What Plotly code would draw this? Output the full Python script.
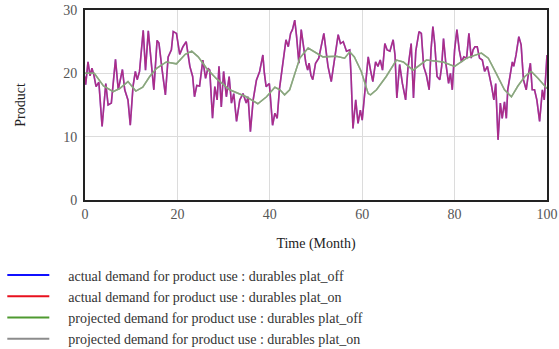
import plotly.graph_objects as go

# Actual demand
actual_time = [0.0, 0.15, 0.65, 1.1, 1.5, 1.9, 2.4, 3.0, 3.7, 4.5, 5.0, 5.7, 6.6, 7.2, 8.1, 8.6, 9.3, 9.8,
               10.4, 10.9, 11.3, 11.8, 12.6, 13.1, 13.7, 14.2, 14.9, 15.6, 16.0, 16.7, 17.4, 18.0, 18.7,
               19.1, 19.8, 20.5, 21.2, 21.9, 22.7, 23.3, 23.7, 24.2, 24.8, 25.5, 26.1, 26.6, 27.0, 27.6,
               28.1, 28.6, 29.0, 29.5, 30.0, 30.6, 31.2, 31.7, 32.2, 32.8, 33.5, 34.2, 34.9, 35.3, 35.8,
               36.4, 37.1, 37.8, 38.5, 38.8, 39.2, 39.9, 40.6, 41.1, 41.6, 42.1, 43.0, 43.5, 44.0, 44.5,
               44.9, 45.4, 45.8, 46.3, 46.8, 47.3, 47.8, 48.2, 48.5, 48.9, 49.3, 49.9, 50.6, 51.7, 52.3,
               52.6, 53.3, 53.8, 54.4, 54.8, 55.3, 55.9, 56.6, 57.3, 57.6, 58.0, 58.6, 59.1, 59.6, 60.0,
               60.5, 61.3, 61.8, 62.3, 62.9, 63.4, 63.9, 64.4, 64.9, 65.4, 66.0, 66.7, 67.1, 67.5, 68.1,
               68.7, 69.4, 69.9, 70.6, 71.1, 71.6, 72.3, 72.8, 73.3, 73.9, 74.5, 74.9, 75.3, 75.7, 76.2,
               76.8, 77.2, 77.6, 78.1, 78.7, 79.1, 79.5, 80.0, 80.5, 81.0, 81.5, 82.0, 82.6, 83.1, 83.6,
               84.0, 84.4, 84.9, 85.4, 86.0, 86.5, 87.1, 88.0, 88.5, 88.9, 89.4, 89.9, 90.3, 90.8, 91.2,
               91.5, 91.9, 92.5, 92.8, 93.3, 93.9, 94.4, 94.9, 95.5, 95.9, 96.4, 96.8, 97.3, 97.8, 98.4,
               99.0, 99.4, 100.0]
actual_values = [19.5, 18.2, 21.8, 19.6, 20.8, 19.8, 17.9, 18.6, 11.6, 18.4, 15.0, 15.3, 22.2, 17.4, 20.6,
                 17.4, 15.8, 11.8, 18.0, 20.3, 19.0, 20.3, 26.8, 20.5, 26.7, 22.6, 17.4, 25.2, 24.8, 20.5,
                 16.6, 22.6, 23.7, 26.6, 26.3, 23.0, 24.2, 25.0, 21.1, 19.5, 16.3, 18.1, 18.0, 22.1, 19.2,
                 20.8, 20.5, 12.9, 17.9, 15.8, 21.1, 14.7, 20.3, 16.3, 19.5, 15.3, 16.8, 12.4, 15.8, 16.8,
                 15.3, 16.3, 10.8, 15.8, 18.9, 20.3, 22.9, 20.2, 17.9, 18.4, 11.8, 13.7, 12.9, 17.6, 22.1,
                 25.3, 24.2, 26.3, 26.9, 28.4, 25.8, 21.6, 26.9, 24.5, 21.6, 20.5, 21.6, 19.7, 19.0, 21.6,
                 22.4, 26.3, 22.6, 21.1, 18.7, 21.1, 24.7, 26.1, 24.7, 25.0, 23.5, 23.7, 19.5, 11.3, 15.8,
                 12.1, 14.2, 12.6, 16.5, 22.6, 20.5, 18.7, 21.8, 21.1, 22.1, 20.5, 24.7, 23.7, 23.5, 25.3,
                 22.9, 16.1, 21.4, 18.4, 15.8, 20.8, 24.7, 16.1, 23.5, 26.6, 26.3, 21.1, 19.7, 17.4, 23.7,
                 27.4, 24.7, 19.5, 19.0, 21.1, 25.5, 21.6, 18.4, 20.0, 17.4, 23.7, 26.9, 23.7, 21.8, 22.6,
                 22.4, 26.3, 22.4, 23.7, 24.2, 24.2, 22.4, 22.1, 20.3, 21.1, 18.0, 15.8, 18.4, 9.5, 15.3,
                 12.9, 15.5, 12.9, 17.4, 19.5, 21.8, 21.1, 22.9, 25.8, 24.5, 19.0, 17.4, 19.5, 21.6, 17.4,
                 17.4, 15.8, 12.4, 17.4, 15.8, 22.9]

# Projected demand
projected_time = [0, 2, 4, 6.1, 7.5, 9.3, 11.0, 12.5, 14.0, 15.5, 17.6, 19.8, 21.7, 23.1, 24.5, 26.3, 28.4,
                  31.3, 34.9, 37.4, 39.3, 41.1, 42.2, 43.2, 44.3, 45.4, 46.5, 48.3, 50.1, 51.5, 54.4, 56.2,
                  57.3, 58.3, 59.8, 61.3, 61.8, 63.1, 65.2, 67.4, 68.9, 71.0, 73.9, 77.5, 80.0, 82.6, 85.8,
                  87.3, 89.0, 90.8, 92.3, 93.7, 95.2, 96.6, 98.1, 100]
projected_values = [20.0, 20.0, 18.0, 17.1, 17.6, 18.7, 17.2, 17.8, 19.5, 20.8, 21.8, 21.5, 23.0, 23.5, 22.6,
                    20.8, 19.2, 17.4, 16.3, 15.2, 16.3, 17.8, 17.4, 16.6, 17.4, 20.0, 22.4, 24.0, 23.2, 22.6,
                    22.7, 22.4, 23.4, 22.6, 20.3, 16.8, 16.6, 17.4, 19.5, 22.1, 21.8, 20.5, 22.1, 21.8, 21.1,
                    22.4, 23.2, 22.4, 20.0, 17.4, 16.3, 18.0, 19.5, 20.3, 19.2, 17.6]

names = ["actual demand for product use : durables plat_off",
         "actual demand for product use : durables plat_on",
         "projected demand for product use : durables plat_off",
         "projected demand for product use : durables plat_on"]
legend_colors = ["#1010ff", "#e8101e", "#4f9a30", "#8c8c8c"]
plot_colors = ["#5a50ff", "rgba(230,20,50,0.58)", "#6aa050", "rgba(160,168,160,0.6)"]
series_x = [actual_time, actual_time, projected_time, projected_time]
series_y = [actual_values, actual_values, projected_values, projected_values]

fig = go.Figure()
for i in range(4):
    fig.add_trace(go.Scatter(x=series_x[i], y=series_y[i], mode="lines", name=names[i],
                             line=dict(color=plot_colors[i], width=1.6 if i < 2 else 1.5),
                             showlegend=False, legendgroup=str(i)))
for i in range(4):
    fig.add_trace(go.Scatter(x=[None], y=[None], mode="lines",
                             name="&nbsp;&nbsp;&nbsp;&nbsp;" + names[i],
                             line=dict(color=legend_colors[i], width=2), legendgroup=str(i)))

font_family = "Liberation Serif"
fig.update_layout(
    width=559, height=349,
    margin=dict(l=85, r=12, t=10, b=149, autoexpand=False),
    paper_bgcolor="white", plot_bgcolor="white",
    font=dict(family=font_family, size=14, color="#333"),
    showlegend=True,
    legend=dict(x=-0.179, y=-0.313, xanchor="left", yanchor="top", itemwidth=42,
                font=dict(family=font_family, size=14, color="#333"),
                bgcolor="rgba(0,0,0,0)", tracegroupgap=0),
    xaxis=dict(range=[0, 100], tickvals=[0, 20, 40, 60, 80, 100], showgrid=True, automargin=False,
               gridcolor="#dcdcdc", gridwidth=1, zeroline=False, showline=True, linecolor="#222",
               linewidth=2, mirror=True, ticks="", tickfont=dict(color="#555"),
               title=dict(text="Time (Month)", standoff=17, font=dict(size=14, color="#222"))),
    yaxis=dict(range=[0, 30], tickvals=[0, 10, 20, 30], showgrid=True, automargin=False,
               gridcolor="#dcdcdc", gridwidth=1, zeroline=False, showline=True, linecolor="#222",
               linewidth=2, mirror=True, ticks="", tickfont=dict(color="#555"), ticklabelstandoff=3,
               title=dict(text="Product", standoff=34, font=dict(size=14, color="#222"))),
)
fig.write_html("out.html", config={"displayModeBar": False},
               post_script="document.body.style.margin='0px';")
